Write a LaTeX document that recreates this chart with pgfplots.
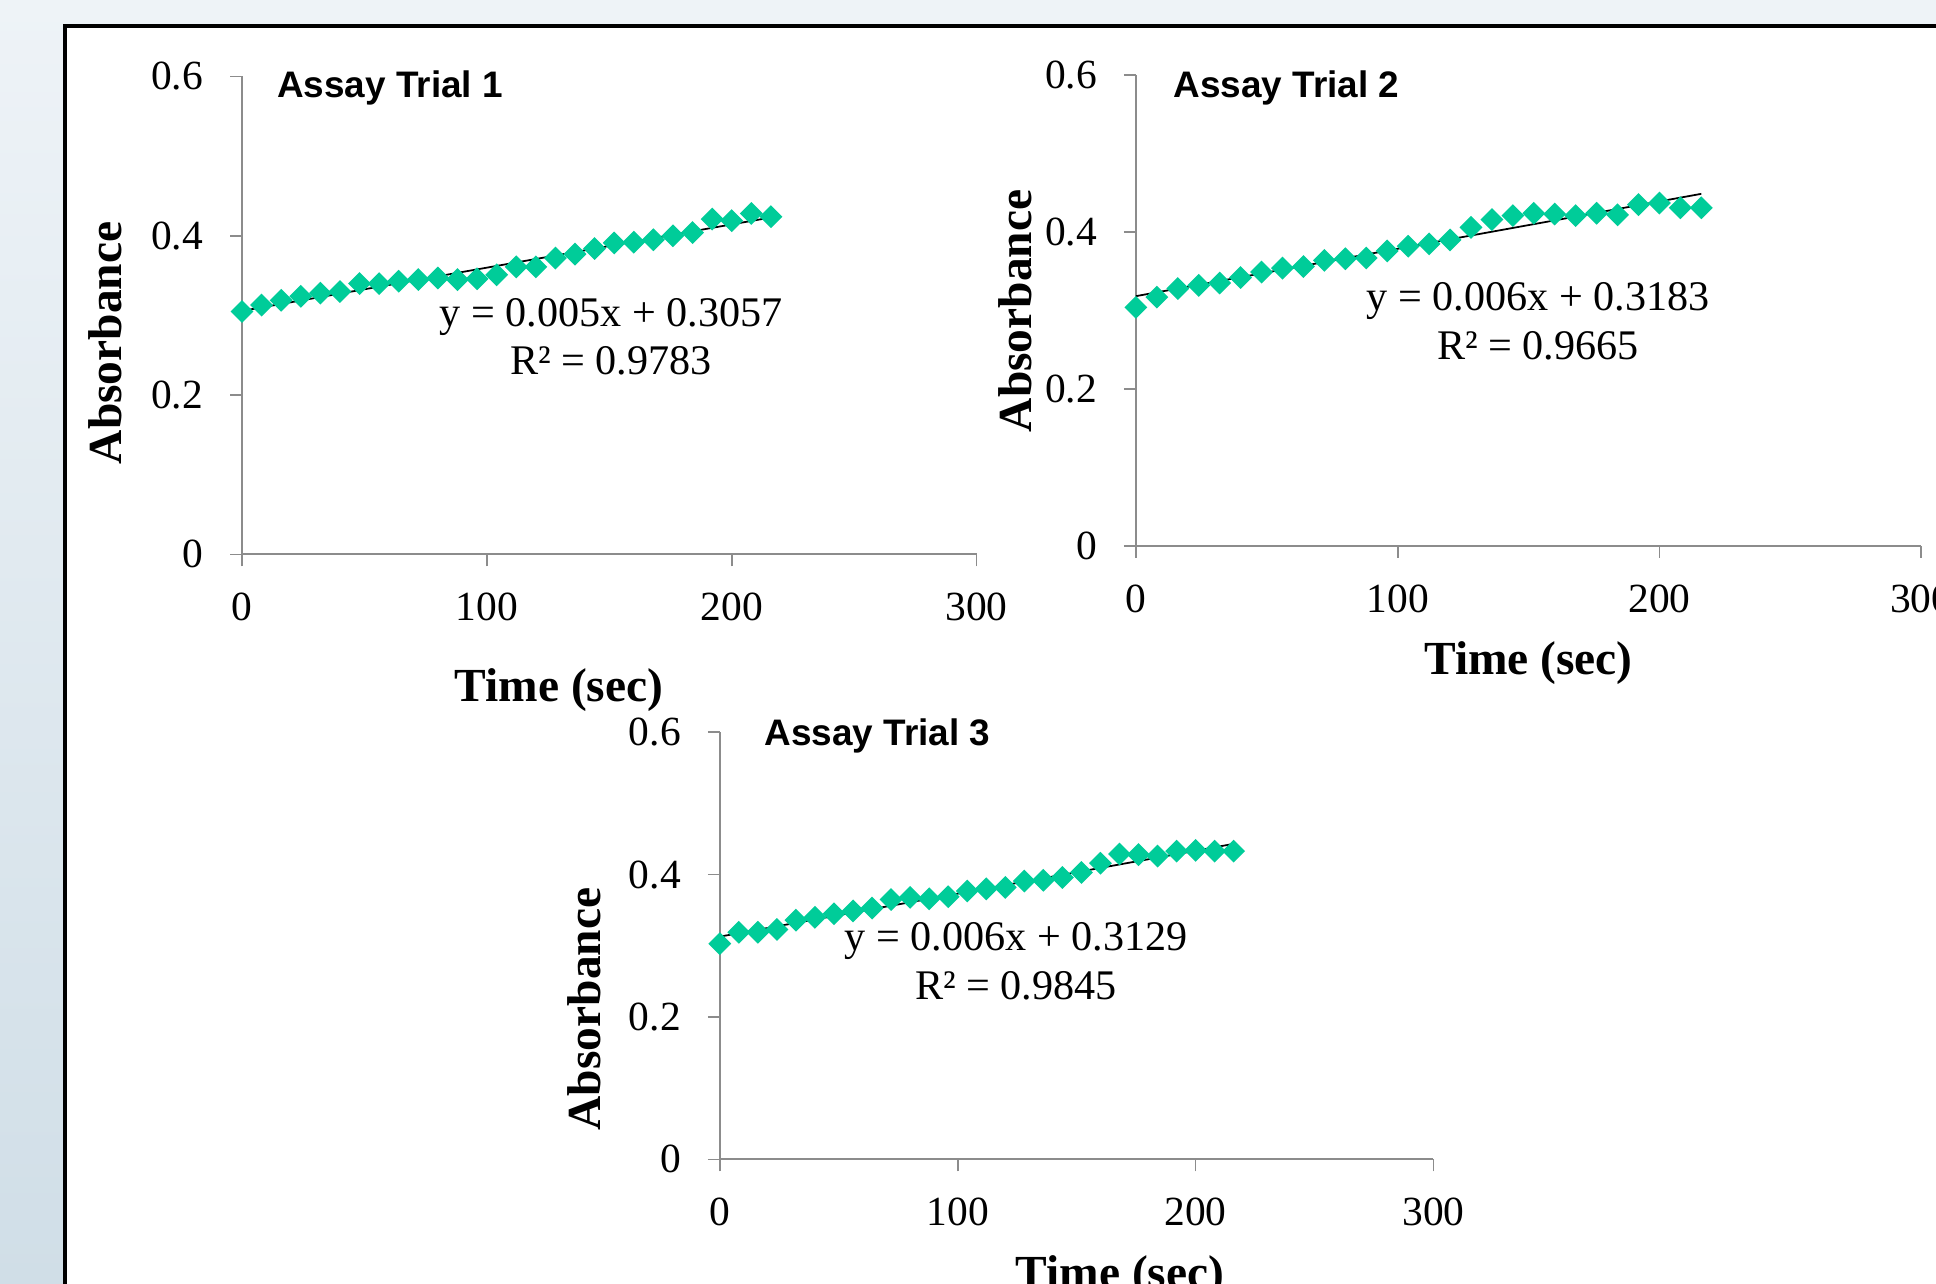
\documentclass[border=0pt]{standalone}
\usepackage{fontspec}
\setmainfont{Liberation Serif}
\newfontfamily\arialfont{Liberation Sans}
\usepackage{pgfplots}
\pgfplotsset{compat=1.18}
\definecolor{mk}{HTML}{00CC99}
\definecolor{axgray}{HTML}{8C8C8C}
\definecolor{bgtop}{HTML}{EEF3F7}
\definecolor{bgbot}{HTML}{D0DEE7}

\pgfplotsset{assay/.style={
  scale only axis, clip=false,
  axis lines*=left,
  axis line style={axgray, line width=0.6pt},
  xmin=0, xmax=300, ymin=0, ymax=0.6,
  xtick={0,100,200,300}, ytick={0,0.2,0.4,0.6},
  tick style={axgray, line width=0.5pt},
  tick align=outside, major tick length=3.4pt,
  /pgf/number format/assume math mode=true,
  ticklabel style={font=\fontsize{11.8}{12}\selectfont},
  yticklabel style={/pgf/number format/fixed, /pgf/number format/precision=1, inner sep=0pt, anchor=east, xshift=-7.5pt},
  xticklabel style={inner sep=0pt, anchor=north, yshift=-7.5pt},
}}
\pgfplotsset{pts/.style={only marks, mark=square*, mark size=2.1pt, mark options={rotate=45, fill=mk, draw=mk}}}
\pgfplotsset{fit/.style={black, line width=0.5pt, no marks}}

\begin{document}
\begin{tikzpicture}
\useasboundingbox (0,0) rectangle (193.6mm,128.4mm);
\clip (0,0) rectangle (193.6mm,128.4mm);
\shade[top color=bgtop, bottom color=bgbot] (0,0) rectangle (193.6mm,128.4mm);
\fill[white] (6.5mm,-10mm) rectangle (210mm,125.8mm);
\draw[black, line width=1.3pt] (6.5mm,-10mm) -- (6.5mm,125.8mm) -- (210mm,125.8mm);

% ---------- Trial 1 ----------
\begin{axis}[assay, at={(24.2mm,72.96mm)}, anchor=south west, width=73.46mm, height=47.79mm]
\addplot[pts] coordinates {
(0,0.305) (8,0.313) (16,0.319) (24,0.324) (32,0.328) (40,0.330) (48,0.340)
(56,0.340) (64,0.343) (72,0.345) (80,0.347) (88,0.345) (96,0.346) (104,0.351)
(112,0.361) (120,0.361) (128,0.372) (136,0.377) (144,0.384) (152,0.391) (160,0.392)
(168,0.395) (176,0.400) (184,0.404) (192,0.421) (200,0.419) (208,0.428) (216,0.424)};
\addplot[fit] coordinates {(0,0.3057) (216,0.4230)};
\end{axis}

% ---------- Trial 2 ----------
\begin{axis}[assay, at={(113.59mm,73.83mm)}, anchor=south west, width=78.53mm, height=47.04mm]
\addplot[pts] coordinates {
(0,0.304) (8,0.317) (16,0.328) (24,0.332) (32,0.335) (40,0.342) (48,0.349)
(56,0.354) (64,0.356) (72,0.364) (80,0.366) (88,0.367) (96,0.376) (104,0.382)
(112,0.385) (120,0.390) (128,0.406) (136,0.416) (144,0.421) (152,0.424) (160,0.423)
(168,0.421) (176,0.424) (184,0.422) (192,0.435) (200,0.437) (208,0.431) (216,0.431)};
\addplot[fit] coordinates {(0,0.3183) (216,0.4488)};
\end{axis}

% ---------- Trial 3 ----------
\begin{axis}[assay, at={(71.98mm,12.46mm)}, anchor=south west, width=71.37mm, height=42.72mm]
\addplot[pts] coordinates {
(0,0.303) (8,0.319) (16,0.319) (24,0.323) (32,0.336) (40,0.340) (48,0.345)
(56,0.349) (64,0.353) (72,0.365) (80,0.368) (88,0.366) (96,0.369) (104,0.377)
(112,0.380) (120,0.382) (128,0.391) (136,0.392) (144,0.396) (152,0.403) (160,0.416)
(168,0.429) (176,0.428) (184,0.426) (192,0.433) (200,0.434) (208,0.433) (216,0.433)};
\addplot[fit] coordinates {(0,0.3129) (216,0.4432)};
\end{axis}

% ---------- labels ----------
\def\lblfont{\fontsize{13.5}{14}\selectfont\bfseries}
\def\titfont{\arialfont\fontsize{10.5}{11}\selectfont\bfseries}
\def\eqfont{\fontsize{12}{13}\selectfont}

\node[font=\lblfont] at (55.9mm,59.4mm) {Time (sec)};
\node[font=\lblfont, rotate=90] at (10.5mm,94.1mm) {Absorbance};
\node[font=\titfont, anchor=west, inner sep=0pt] at (27.66mm,119.6mm) {Assay Trial 1};
\node[font=\eqfont, inner sep=0pt] at (61.1mm,96.7mm) {y = 0.005x + 0.3057};
\node[font=\eqfont, inner sep=0pt] at (61.1mm,92.3mm) {R² = 0.9783};

\node[font=\lblfont] at (152.85mm,62.1mm) {Time (sec)};
\node[font=\lblfont, rotate=90] at (101.5mm,97.3mm) {Absorbance};
\node[font=\titfont, anchor=west, inner sep=0pt] at (117.3mm,119.6mm) {Assay Trial 2};
\node[font=\eqfont, inner sep=0pt] at (153.8mm,98.3mm) {y = 0.006x + 0.3183};
\node[font=\eqfont, inner sep=0pt] at (153.8mm,93.8mm) {R² = 0.9665};

\node[font=\lblfont] at (112.0mm,0.7mm) {Time (sec)};
\node[font=\lblfont, rotate=90] at (58.4mm,27.5mm) {Absorbance};
\node[font=\titfont, anchor=west, inner sep=0pt] at (76.4mm,54.8mm) {Assay Trial 3};
\node[font=\eqfont, inner sep=0pt] at (101.6mm,34.3mm) {y = 0.006x + 0.3129};
\node[font=\eqfont, inner sep=0pt] at (101.6mm,29.8mm) {R² = 0.9845};
\end{tikzpicture}
\end{document}
